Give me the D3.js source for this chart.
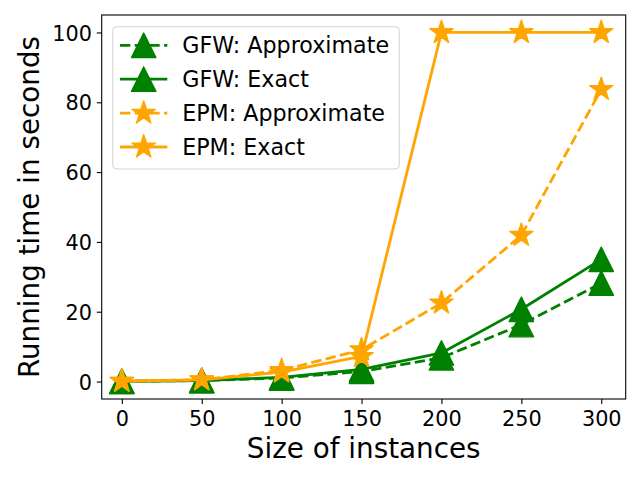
<!DOCTYPE html>
<html lang="en">
<head>
    <meta charset="UTF-8">
    <title>Running time</title>
    <style type="text/css">
        * {
            margin: 0;
            padding: 0;
        }

        body {
            background: #fff;
        }

        text {
            font-family: "DejaVu Sans", sans-serif;
            fill: #000;
        }
    </style>
</head>
<body>
<div id="chart-area"></div>
<script src="https://cdn.jsdelivr.net/npm/d3@7"></script>
<script type="text/javascript">

  // data
  const sizes = [0, 50, 100, 150, 200, 250, 300]
  const gfwApprox = [0.05, 0.3, 1.0, 2.9, 6.8, 16.3, 28.2]
  const gfwExact = [0.05, 0.3, 1.2, 3.5, 8.2, 20.7, 35.0]
  const epmApprox = [0.1, 0.5, 3.2, 9.1, 22.5, 41.9, 83.7]
  const epmExact = [0.1, 0.5, 2.7, 7.2, 100, 100, 100]
  const xTicks = [0, 50, 100, 150, 200, 250, 300]
  const yTicks = [0, 20, 40, 60, 80, 100]

  const seriesNames = ['GFW: Approximate', 'GFW: Exact', 'EPM: Approximate', 'EPM: Exact']
  const seriesValues = [gfwApprox, gfwExact, epmApprox, epmExact]

  const MARGIN = {LEFT: 101.7, TOP: 15, RIGHT: 14.3, BOTTOM: 81}
  const WIDTH = 640 - MARGIN.LEFT - MARGIN.RIGHT
  const HEIGHT = 480 - MARGIN.TOP - MARGIN.BOTTOM

  const GREEN = '#008000'
  const ORANGE = '#ffa500'
  const LW = 2.8
  const DASH = '10.3,4.4'
  const MS = 12.2 // half marker size

  const styles = [
    {color: GREEN, dash: DASH, marker: 'tri'},
    {color: GREEN, dash: null, marker: 'tri'},
    {color: ORANGE, dash: DASH, marker: 'star'},
    {color: ORANGE, dash: null, marker: 'star'},
  ]

  const svg = d3.select('#chart-area').append('svg')
    .attr('width', 640)
    .attr('height', 480)
    .style('display', 'block')

  const g = svg.append('g').attr('transform', `translate(${MARGIN.LEFT}, ${MARGIN.TOP})`)

  const x = d3.scaleLinear().domain([-12.6, 315.3]).range([0, WIDTH])
  const y = d3.scaleLinear().domain([-5, 105]).range([HEIGHT, 0])

  function markerPath(type, r) {
    if (type === 'tri') {
      return `M0,${-r}L${-r},${r}L${r},${r}Z`
    }
    const pts = []
    for (let i = 0; i < 10; i++) {
      const rad = i % 2 === 0 ? r : r * 0.381966
      const a = -Math.PI / 2 + i * Math.PI / 5
      pts.push([rad * Math.cos(a), rad * Math.sin(a)])
    }
    return 'M' + pts.map(p => p.join(',')).join('L') + 'Z'
  }

  // axes
  const xAxisCall = d3.axisBottom(x).tickValues(xTicks).tickSize(4.9).tickPadding(4.9).tickSizeOuter(0)
  const yAxisCall = d3.axisLeft(y).tickValues(yTicks).tickSize(4.9).tickPadding(4.9).tickSizeOuter(0)

  g.append('g').attr('class', 'bottom-axis')
    .attr('transform', `translate(0, ${HEIGHT})`)
    .call(xAxisCall)
    .call(g => g.select('.domain').remove())
    .call(g => g.selectAll('.tick line').attr('stroke', '#000').attr('stroke-width', 1.1))
    .call(g => g.selectAll('.tick text')
      .attr('font-size', '20.8px')
      .attr('font-family', '"DejaVu Sans", sans-serif')
      .attr('dy', 0)
      .attr('y', 27))

  g.append('g').attr('class', 'left-axis')
    .call(yAxisCall)
    .call(g => g.select('.domain').remove())
    .call(g => g.selectAll('.tick line').attr('stroke', '#000').attr('stroke-width', 1.1))
    .call(g => g.selectAll('.tick text')
      .attr('font-size', '20.8px')
      .attr('font-family', '"DejaVu Sans", sans-serif')
      .attr('dy', '0.3645em'))

  // lines and markers
  const line = d3.line().x(d => x(d[0])).y(d => y(d[1]))

  seriesValues.forEach((vals, i) => {
    const st = styles[i]
    const pts = sizes.map((s, j) => [s, vals[j]])
    const sg = g.append('g').attr('class', 'series')
    sg.append('path')
      .attr('d', line(pts))
      .attr('fill', 'none')
      .attr('stroke', st.color)
      .attr('stroke-width', LW)
      .attr('stroke-dasharray', st.dash)
      .attr('stroke-linejoin', 'round')
    sg.selectAll('path.mk')
      .data(pts)
      .join('path')
      .attr('class', 'mk')
      .attr('transform', d => `translate(${x(d[0])}, ${y(d[1])})`)
      .attr('d', markerPath(st.marker, MS))
      .attr('fill', st.color)
      .attr('stroke', st.color)
      .attr('stroke-width', 1.4)
      .attr('stroke-linejoin', 'round')
  })

  // frame
  g.append('rect')
    .attr('width', WIDTH)
    .attr('height', HEIGHT)
    .attr('fill', 'none')
    .attr('stroke', '#000')
    .attr('stroke-width', 1.1)

  // axis labels
  g.append('text')
    .attr('class', 'x axis-label')
    .attr('x', WIDTH / 2)
    .attr('y', 458.3 - MARGIN.TOP)
    .attr('font-size', '27.8px')
    .attr('text-anchor', 'middle')
    .text('Size of instances')

  g.append('text')
    .attr('class', 'y axis-label')
    .attr('x', -(HEIGHT / 2))
    .attr('y', 39 - MARGIN.LEFT)
    .attr('font-size', '27.8px')
    .attr('text-anchor', 'middle')
    .attr('transform', 'rotate(-90)')
    .text('Running time in seconds')

  // legend
  const legend = svg.append('g').attr('class', 'legend').attr('transform', 'translate(112.7, 26.7)')
  legend.append('rect')
    .attr('width', 286.6)
    .attr('height', 142.3)
    .attr('rx', 4)
    .attr('fill', '#fff')
    .attr('fill-opacity', 0.8)
    .attr('stroke', '#d4d4d4')
    .attr('stroke-width', 1)

  seriesNames.forEach((name, i) => {
    const st = styles[i]
    const cy = 18.6 + i * 33.9
    const row = legend.append('g').attr('transform', `translate(0, ${cy})`)
    row.append('line')
      .attr('x1', 7.3)
      .attr('x2', 54.6)
      .attr('stroke', st.color)
      .attr('stroke-width', LW)
      .attr('stroke-dasharray', st.dash)
    row.append('path')
      .attr('transform', 'translate(31, 0)')
      .attr('d', markerPath(st.marker, MS))
      .attr('fill', st.color)
      .attr('stroke', st.color)
      .attr('stroke-width', 1.4)
      .attr('stroke-linejoin', 'round')
    row.append('text')
      .attr('x', 69.5)
      .attr('y', 8)
      .attr('font-size', '22.2px')
      .text(name)
  })

</script>
</body>
</html>
